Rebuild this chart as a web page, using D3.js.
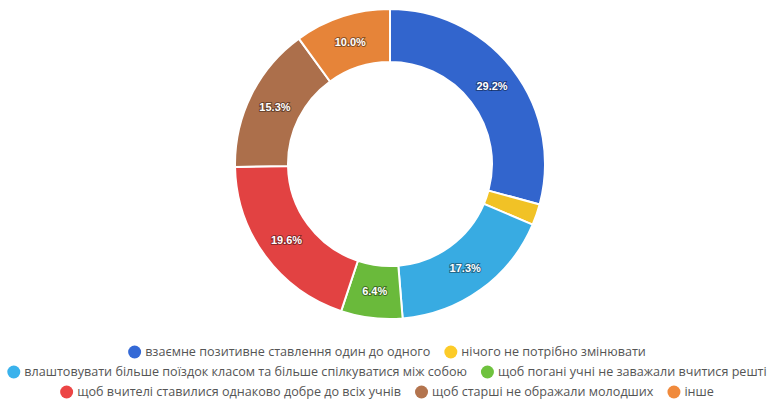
<!DOCTYPE html>
<html>
<head>
<meta charset="utf-8">
<script src="https://cdn.jsdelivr.net/npm/d3@7"></script>
<style>
  body { margin: 0; background: #fff; }
  svg { display: block; }
</style>
</head>
<body>
<svg id="chart"></svg>
<script>
const categories = [
  "взаємне позитивне ставлення один до одного",
  "нічого не потрібно змінювати",
  "влаштовувати більше поїздок класом та більше спілкуватися між собою",
  "щоб погані учні не заважали вчитися решті",
  "щоб вчителі ставилися однаково добре до всіх учнів",
  "щоб старші не ображали молодших",
  "інше"
];
const values = [29.2, 2.2, 17.3, 6.4, 19.6, 15.3, 10.0];
const colors = ["#3469d6", "#fccb28", "#3ab2ec", "#6fc23e", "#ec4545", "#b3744e", "#f08a3c"];
const legendRows = [[0, 1], [2, 3], [4, 5, 6]];

const width = 770, height = 405;
const cx = 390, cy = 164;
const outerR = 155, innerR = 102;

const svg = d3.select("#chart").attr("width", width).attr("height", height);
const defs = svg.append("defs");

// soft 3d shading like the original
colors.forEach((c, i) => {
  const g = defs.append("radialGradient")
    .attr("id", "grad" + i)
    .attr("gradientUnits", "userSpaceOnUse")
    .attr("cx", cx).attr("cy", cy).attr("r", outerR);
  g.append("stop").attr("offset", "0.64").attr("stop-color", d3.color(c).darker(0.15));
  g.append("stop").attr("offset", "0.82").attr("stop-color", d3.color(c).brighter(0.2));
  g.append("stop").attr("offset", "1").attr("stop-color", d3.color(c).darker(0.12));
});

const data = values.map((v, i) => ({ category: categories[i], value: v, i }));
const pie = d3.pie().value(d => d.value).sort(null);
const arc = d3.arc().innerRadius(innerR).outerRadius(outerR);
const labelArc = d3.arc().innerRadius((innerR + outerR) / 2).outerRadius((innerR + outerR) / 2);

const pieG = svg.append("g").attr("transform", `translate(${cx},${cy})`);

pieG.selectAll("path")
  .data(pie(data))
  .enter()
  .append("path")
  .attr("d", arc)
  .attr("fill", d => `url(#grad${d.data.i})`)
  .attr("stroke", "#fff")
  .attr("stroke-width", 2);

pieG.selectAll("text")
  .data(pie(data).filter(d => d.data.value >= 5))
  .enter()
  .append("text")
  .attr("transform", d => `translate(${labelArc.centroid(d)})`)
  .attr("text-anchor", "middle")
  .attr("dy", "0.35em")
  .style("font-family", "Arial, 'Liberation Sans', sans-serif")
  .style("font-size", "11px")
  .style("font-weight", "bold")
  .style("fill", "#fff")
  .style("paint-order", "stroke")
  .style("stroke", "rgba(0,0,0,0.4)")
  .style("stroke-width", "2px")
  .text(d => d.data.value.toFixed(1) + "%");

// legend, rows centred like the original
const legend = svg.append("g");
const rowY = [352, 372, 392];
const dotR = 6.5, textGap = 4, itemGap = 14;

legendRows.forEach((row, r) => {
  const rowG = legend.append("g");
  let x = 0;
  row.forEach(idx => {
    const item = rowG.append("g").attr("transform", `translate(${x},0)`);
    item.append("circle")
      .attr("cx", dotR).attr("cy", 0).attr("r", dotR)
      .attr("fill", colors[idx]);
    const t = item.append("text")
      .attr("x", dotR * 2 + textGap)
      .attr("dy", "0.35em")
      .style("font-family", "'Open Sans', sans-serif")
      .style("font-size", "12.6px")
      .style("fill", "#555")
      .text(categories[idx]);
    x += dotR * 2 + textGap + t.node().getComputedTextLength() + itemGap;
  });
  const rowW = x - itemGap;
  rowG.attr("transform", `translate(${(width - rowW) / 2 + 2},${rowY[r]})`);
});
</script>
</body>
</html>
